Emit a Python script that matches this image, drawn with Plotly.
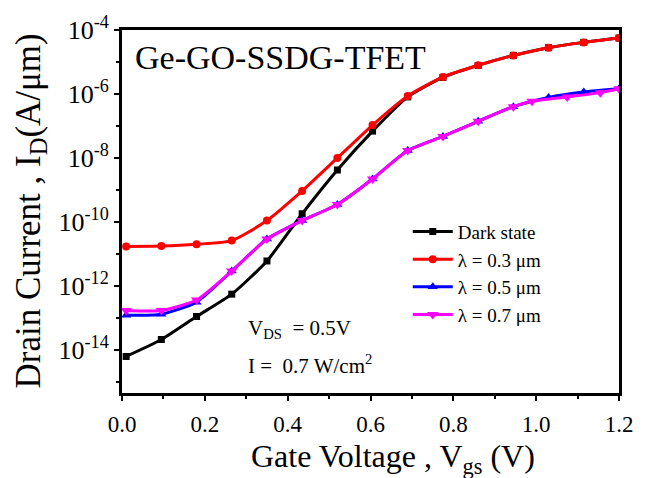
import plotly.graph_objects as go

vgs = [0.01, 0.095, 0.18, 0.265, 0.35, 0.435, 0.52, 0.605, 0.69, 0.775, 0.86, 0.945, 1.03, 1.115, 1.2]
dark = [6.2e-15, 2.1e-14, 1.1e-13, 5.5e-13, 6.0e-12, 1.8e-10, 4.2e-9, 6.9e-8, 8.1e-7,
        3.3e-6, 7.8e-6, 1.6e-5, 2.8e-5, 4.1e-5, 5.6e-5]
lam03 = [1.7e-11, 1.75e-11, 2.0e-11, 2.6e-11, 1.1e-10, 9.3e-10, 1.0e-8, 1.07e-7, 8.7e-7,
         3.4e-6, 7.9e-6, 1.6e-5, 2.8e-5, 4.1e-5, 5.6e-5]
lam05 = [1.2e-13, 1.3e-13, 3.1e-13, 2.9e-12, 2.9e-11, 1.1e-10, 3.5e-10, 2.2e-9, 1.7e-8,
         4.7e-8, 1.4e-7, 4.0e-7, 7.8e-7, 1.15e-6, 1.45e-6]
vgs07 = [0.01, 0.095, 0.18, 0.265, 0.35, 0.435, 0.52, 0.605, 0.69, 0.775, 0.86, 0.945, 0.99, 1.075, 1.155, 1.2]
lam07 = [1.7e-13, 1.7e-13, 3.6e-13, 2.9e-12, 2.9e-11, 1.1e-10, 3.5e-10, 2.2e-9, 1.7e-8,
         4.7e-8, 1.4e-7, 4.0e-7, 5.9e-7, 8.1e-7, 1.1e-6, 1.45e-6]

names = ["Dark state", "λ = 0.3 μm", "λ = 0.5 μm", "λ = 0.7 μm"]
colors = ["#000000", "#ff0000", "#0000ff", "#ff00ff"]
symbols = ["square", "circle", "triangle-up", "triangle-down"]
msizes = [7, 8, 9, 10]
xs = [vgs, vgs, vgs, vgs07]
ys = [dark, lam03, lam05, lam07]

ytick_exp = [-4, -6, -8, -10, -12, -14]
minor_exp = [-5, -7, -9, -11, -13, -15]

FONT = "Liberation Serif, Times New Roman, serif"

fig = go.Figure()
for x, y, n, c, s, ms in zip(xs, ys, names, colors, symbols, msizes):
    fig.add_trace(go.Scatter(
        x=x, y=y, name=n, mode="lines+markers",
        line=dict(color=c, width=3, shape="spline", smoothing=0.6),
        marker=dict(symbol=s, size=ms, color=c),
    ))

fig.update_layout(
    width=648, height=478,
    margin=dict(l=122, r=29, t=21, b=85),
    paper_bgcolor="white", plot_bgcolor="white",
    font=dict(family=FONT, color="black", size=20),
    showlegend=True,
    legend=dict(x=0.575, y=0.497, xanchor="left", yanchor="top",
                bgcolor="rgba(0,0,0,0)", font=dict(size=19, family=FONT),
                tracegroupgap=0, itemwidth=40),
)

fig.update_xaxes(
    range=[0, 1.2], dtick=0.2, tickformat=".1f",
    showline=True, linewidth=3, linecolor="black", mirror=True,
    ticks="outside", ticklen=5, tickwidth=2, tickcolor="black",
    minor=dict(dtick=0.1, ticks="outside", ticklen=3, tickwidth=2, tickcolor="black"),
    showgrid=False, zeroline=False,
    tickfont=dict(size=23, family=FONT), ticklabelstandoff=3,
)

fig.update_yaxes(
    type="log", range=[-15.35, -4],
    tickvals=[10.0 ** e for e in ytick_exp],
    ticktext=["10<sup>%d</sup>" % e for e in ytick_exp],
    showline=True, linewidth=3, linecolor="black", mirror=True,
    ticks="outside", ticklen=5, tickwidth=2, tickcolor="black",
    minor=dict(tickvals=[10.0 ** e for e in minor_exp], ticks="outside", ticklen=3,
               tickwidth=2, tickcolor="black", showgrid=False),
    showgrid=False, zeroline=False,
    tickfont=dict(size=26, family=FONT),
)

# axis titles
fig.add_annotation(xref="paper", yref="paper", x=0.545, y=-0.18, xanchor="center", yanchor="middle",
                   text="Gate Voltage , V<sub>gs</sub> (V)", showarrow=False,
                   font=dict(size=32, family=FONT))
fig.add_annotation(xref="paper", yref="paper", x=-0.185, y=0.5, xanchor="center", yanchor="middle",
                   text="Drain Current , I<sub>D</sub>(A/μm)", showarrow=False, textangle=-90,
                   font=dict(size=35, family=FONT))

fig.add_annotation(xref="paper", yref="paper", x=0.022, y=0.982, xanchor="left", yanchor="top",
                   text="Ge-GO-SSDG-TFET", showarrow=False, font=dict(size=34, family=FONT))
fig.add_annotation(xref="paper", yref="paper", x=0.25, y=0.175, xanchor="left", yanchor="middle",
                   text="V<sub>DS</sub>  = 0.5V", showarrow=False, font=dict(size=21, family=FONT))
fig.add_annotation(xref="paper", yref="paper", x=0.25, y=0.078, xanchor="left", yanchor="middle",
                   text="I =  0.7 W/cm<sup>2</sup>", showarrow=False, font=dict(size=21, family=FONT))

fig.write_html("out.html", config={"displayModeBar": False},
               post_script="document.body.style.margin='0px';")
